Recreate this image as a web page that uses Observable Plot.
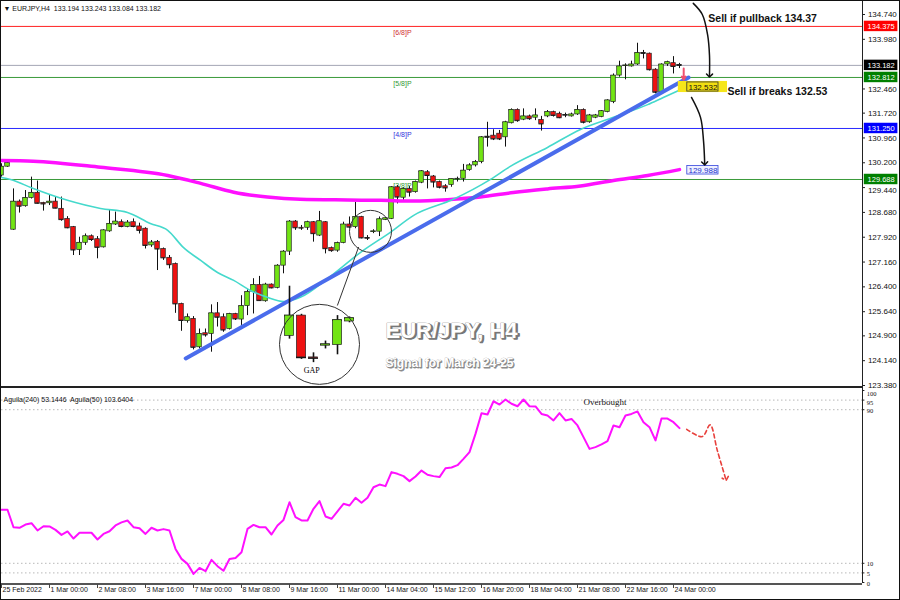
<!DOCTYPE html>
<html><head><meta charset="utf-8">
<script src="https://cdn.jsdelivr.net/npm/d3@7"></script>
<script src="https://cdn.jsdelivr.net/npm/@observablehq/plot@0.6"></script>
<style>
html,body{margin:0;padding:0;background:#fff;}
#wrap{position:relative;width:900px;height:600px;overflow:hidden;background:#fff;}
#main{position:absolute;left:0;top:0;}
#ind{position:absolute;left:0;top:388px;}
#sep{position:absolute;left:0;top:386px;width:863px;height:2px;background:#222;}
#border{position:absolute;left:0;top:0;width:900px;height:600px;box-sizing:border-box;border:1px solid #111;pointer-events:none;}
</style></head>
<body><div id="wrap"><div id="main"></div><div id="ind"></div><div id="sep"></div><div id="border"></div></div>
<script>
// ---------------- DATA ----------------
const barOpen  = [129.81,130.08,128.15,129.01,128.87,129.12,129.28,128.97,128.96,129.01,128.79,128.48,128.23,127.53,127.75,127.95,127.86,127.61,128.10,128.31,128.38,128.23,128.38,128.25,128.18,127.67,127.78,127.56,127.29,127.10,125.88,125.35,125.42,124.55,124.98,124.96,125.59,125.47,125.11,125.57,125.40,125.81,126.24,126.46,125.96,126.47,126.37,127.05,127.48,128.40,128.21,128.21,128.38,127.97,128.38,127.59,127.51,127.74,128.31,128.23,128.54,127.90,128.08,128.09,128.45,128.48,129.45,129.13,129.40,129.30,129.59,129.91,129.78,129.61,129.48,129.52,129.70,129.71,129.98,130.12,130.22,131.00,131.03,131.09,130.98,131.41,131.82,131.52,131.62,131.58,131.51,131.62,131.75,131.70,131.65,131.62,131.68,131.82,131.44,131.58,131.60,131.75,132.06,132.87,133.17,133.15,133.21,133.56,133.54,133.05,132.36,133.21,133.25,133.194];
const barHigh  = [130.17,130.25,129.40,129.06,129.35,129.76,129.64,128.99,129.22,129.15,129.15,128.55,128.25,127.92,128.02,127.99,127.94,128.15,128.74,128.69,128.45,128.43,128.48,128.35,128.21,127.82,127.82,127.59,127.36,127.13,125.90,125.57,125.49,125.11,125.11,125.85,125.92,125.57,125.59,125.59,126.13,126.31,126.65,126.72,126.51,126.49,127.08,127.51,128.43,128.43,128.28,128.41,128.40,128.71,128.40,127.62,127.77,128.38,128.54,128.99,128.56,127.97,128.15,128.54,128.52,129.47,129.50,129.43,129.47,129.64,129.96,129.96,129.81,129.64,129.53,129.70,129.76,130.15,130.17,130.27,131.00,131.44,131.21,131.19,131.47,131.85,131.85,131.85,131.66,131.85,131.62,131.80,131.78,131.75,131.72,131.72,131.95,131.85,131.68,131.68,131.80,132.13,132.92,133.31,133.23,133.31,133.86,133.64,133.56,133.08,133.23,133.31,133.45,133.243];
const barLow   = [129.76,130.06,128.13,128.66,128.84,129.09,128.94,128.72,128.89,128.79,128.41,128.18,127.36,127.36,127.67,127.79,127.26,127.59,128.07,128.28,128.21,128.21,128.21,128.02,127.56,127.61,126.90,127.21,126.95,125.59,125.04,125.29,124.47,124.50,124.86,124.40,125.17,125.01,125.08,125.37,125.22,125.52,125.57,125.96,125.93,126.34,126.34,126.80,127.36,128.13,128.13,128.13,127.77,127.94,127.41,127.46,127.46,127.72,128.18,128.18,127.87,127.82,128.03,127.94,128.43,128.46,128.94,129.05,129.15,129.27,129.56,129.40,129.43,129.40,129.30,129.45,129.61,129.61,129.94,130.07,130.17,130.68,130.88,130.88,130.68,131.39,131.44,131.49,131.50,131.49,131.17,131.58,131.60,131.55,131.58,131.60,131.65,131.39,131.41,131.55,131.58,131.73,132.01,132.82,132.74,133.13,133.18,133.38,133.01,132.31,132.31,133.15,132.92,133.084];
const barClose = [130.08,130.19,129.01,128.87,129.12,129.28,128.96,128.94,129.01,128.81,128.46,128.21,127.53,127.75,127.95,127.85,127.61,128.13,128.33,128.40,128.25,128.37,128.25,128.13,127.67,127.76,127.56,127.29,127.08,125.88,125.37,125.47,124.55,124.96,124.93,125.59,125.47,125.08,125.57,125.42,125.81,126.24,126.46,125.98,126.47,126.37,127.05,127.48,128.40,128.21,128.20,128.38,128.03,128.41,127.57,127.51,127.74,128.31,128.23,128.54,127.90,127.89,128.10,128.47,128.50,129.45,129.15,129.40,129.30,129.61,129.94,129.81,129.61,129.45,129.43,129.70,129.71,129.96,130.12,130.22,130.98,130.98,130.93,130.93,131.44,131.82,131.49,131.62,131.55,131.65,131.39,131.75,131.65,131.58,131.66,131.68,131.82,131.44,131.65,131.65,131.78,132.11,132.87,133.15,133.18,133.21,133.56,133.55,133.05,132.36,133.21,133.28,133.15,133.182];

// Aguila oscillator values (one per bar)
const aguila = [37.9,37.9,28.8,28.5,30.2,30.9,27.1,29.3,29.2,27.4,24.8,26.6,22.9,25.9,25.9,25.9,22.4,25.3,26.7,29.7,31.3,32.3,28.8,28.3,25.3,28.5,27.1,27.8,27.1,17.5,12.3,9.7,4.5,7.6,5.9,11.8,8.5,6.1,12.2,12.8,15.8,27.9,30.0,28.8,28.8,25.0,29.7,32.6,41.8,34.0,32.3,32.3,38.4,42.4,34.4,33.2,37.1,41.0,40.1,44.1,41.5,44.1,49.6,51.0,50.2,57.5,56.6,55.4,52.8,55.2,58.3,56.1,55.4,54.9,59.5,59.9,61.1,64.4,67.9,77.4,88.2,87.5,94.4,92.7,95.3,93.1,91.8,95.3,91.8,91.7,87.8,87.0,84.4,88.2,84.4,85.2,81.8,75.7,69.6,70.5,71.9,73.6,81.8,80.9,87.0,87.8,89.1,83.5,80.9,74.0,85.4,85.4,83.5,80.4];

// moving averages, read at sample bars
const ma200K = [0,5.3,16.5,27.7,33.2,38.7,44.3,49.8,57.7,63.2,68.7,74.3,79.8,85.3,91,96.5,102,107.7,113];
const ma200P = [130.27,130.25,130.06,129.81,129.57,129.30,129.15,129.08,129.06,129.05,129.03,129.07,129.15,129.29,129.40,129.49,129.66,129.81,129.99];
const emaK = [0,1.5,5.3,11,16.5,21,24.8,27.7,30.3,33.2,36,38.7,41.5,44.3,47,49.8,54.8,59.8,64.8,68.7,75.3,81.5,84.8,91,96.5,102,107.7,110.3,113.2];
const emaP = [129.75,129.69,129.41,129.05,128.80,128.68,128.34,128.13,127.61,127.21,126.84,126.60,126.29,126.08,125.95,126.08,126.72,127.45,128.07,128.59,129.08,129.69,130.09,130.67,131.22,131.59,131.98,132.20,132.44];

// trend line
const trendK = [30.7, 114.5];
const trendP = [124.21, 132.81];

// price axis
const priceTicks = [134.74,133.98,132.46,131.72,130.96,130.2,129.44,128.68,127.92,127.16,126.4,125.64,124.9,124.14,123.38];
const levelValues = [134.375,133.182,132.812,131.25,129.688];
const levelLineColors = ["#ff2020","#a3a6b4","#3a9a3a","#2a2aff","#3a9a3a"];
const levelBoxColors = ["#ff0000","#000000","#008000","#0000ff","#008000"];
const levelNames = ["[6/8]P","","[5/8]P","[4/8]P","[3/8]P"];
const levelNameColors = ["#d03030","#000","#339933","#3333dd","#339933"];

// time axis
const timeTickK = [0,8,16,24,32,40,48,56,64,72,80,88,96,104,112];
const timeTickLabels = ["25 Feb 2022","1 Mar 00:00","2 Mar 08:00","3 Mar 16:00","7 Mar 00:00","8 Mar 08:00","9 Mar 16:00","11 Mar 00:00","14 Mar 04:00","15 Mar 12:00","16 Mar 20:00","18 Mar 04:00","21 Mar 08:00","22 Mar 16:00","24 Mar 00:00"];

// oscillator axis
const oscTicksUpper = [100,95];
const oscTicksOther = [90,10,5,0];
const oscDotted = [95,90,10,5];
const oscForecastK = [114.2,116.8,118.1,119.3,120.7];
const oscForecastV = [79.8,76.0,82.1,68.8,54.0];

// annotations (bar index, price)
const arrow1K = [115.3,116.8,117.7,118.0,118.0];
const arrow1P = [135.08,134.74,134.10,133.48,132.87];
const arrow2K = [115.0,116.5,117.0,117.2];
const arrow2P = [132.20,131.59,130.88,130.18];
const zoomCircleSmall = {k:61.5, p:128.10};
const zoomCircleLarge = {k:53.0, p:124.64};
const zoomFactor = 2;
const connectorK = [59.5, 56.0];
const connectorP = [127.61, 125.84];

// ---------------- BUILD ----------------
const FRAME_K = 143.5;
const XDOM = [0, 149.5], XR = [1, 898];
const bars = barOpen.map((o,i)=>({k:i,o,h:barHigh[i],l:barLow[i],c:barClose[i]}));
const ma200 = ma200K.map((k,i)=>({k,p:ma200P[i]}));
const ema = emaK.map((k,i)=>({k,p:emaP[i]}));
const trend = trendK.map((k,i)=>({k,p:trendP[i]}));
const levels = levelValues.map((v,i)=>({v,line:levelLineColors[i],box:levelBoxColors[i],name:levelNames[i],nc:levelNameColors[i]}));
const arrow1 = arrow1K.map((k,i)=>({k,p:arrow1P[i]}));
const arrow2 = arrow2K.map((k,i)=>({k,p:arrow2P[i]}));
const connector = connectorK.map((k,i)=>({k,p:connectorP[i]}));
const nearLevel = t => levelValues.some(v => v > t && v - t < 0.27);
const ticksPlain = priceTicks.filter(t => !nearLevel(t));
const ticksShifted = priceTicks.filter(t => nearLevel(t));

const zk = k => zoomCircleLarge.k + zoomFactor*(k - zoomCircleSmall.k);
const zp = p => zoomCircleLarge.p + zoomFactor*(p - zoomCircleSmall.p);
const insetBars = bars.filter(d=>d.k>=59 && d.k<=64).map(d=>({k:zk(d.k),o:zp(d.o),h:zp(d.h),l:zp(d.l),c:zp(d.c)}));
const insetEma = ema.filter(d=>d.k>50 && d.k<72).map(d=>({k:zk(d.k),p:zp(d.p)}));

const GREEN = "#72e414", RED = "#ee1111";
const SANS = "Liberation Sans, Arial, sans-serif";
const SERIF = "Liberation Serif, Times New Roman, serif";

const candleMarks = (data, w, sw, label) => [
  Plot.ruleX(data, {x:"k", y1:"l", y2:"h", stroke:"#111", strokeWidth:sw, ariaLabel:label}),
  Plot.ruleY(data, {y:"c", x1:d=>d.k-w*1.1, x2:d=>d.k+w*1.1, stroke:"#111", strokeWidth:sw, ariaLabel:label}),
  Plot.rect(data, {x1:d=>d.k-w, x2:d=>d.k+w, y1:"o", y2:"c", fill:d=>d.c>=d.o?GREEN:RED, stroke:"#222", strokeWidth:0.7, ariaLabel:label})
];

const main = Plot.plot({
  width:900, height:388, marginTop:0, marginRight:0, marginBottom:0, marginLeft:0,
  style:{fontFamily:SANS, background:"transparent", overflow:"visible"},
  x:{type:"linear", domain:XDOM, range:XR, axis:null},
  y:{type:"linear", domain:[123.38,134.74], range:[385,14], axis:null},
  marks:[
    Plot.ruleY(levels, {y:"v", x1:0, x2:FRAME_K, stroke:"line", strokeWidth:1}),
    Plot.text(levels.filter(d=>d.name), {x:65.3, y:"v", text:"name", fill:"nc", dy:6, textAnchor:"start", fontSize:7}),
    ...candleMarks(bars, 0.38, 1, "candles"),
    Plot.line(ma200, {x:"k", y:"p", stroke:"#ff10ff", strokeWidth:3.5, curve:"monotone-x"}),
    Plot.line(ema, {x:"k", y:"p", stroke:"#45d9cc", strokeWidth:1.6, curve:"monotone-x"}),
    Plot.line(trend, {x:"k", y:"p", stroke:"#4a6cec", strokeWidth:4, strokeLinecap:"round"}),
    // zoom circles
    Plot.dot([zoomCircleSmall], {x:"k", y:"p", r:21, fill:"none", stroke:"#333", strokeWidth:1}),
    Plot.line(connector, {x:"k", y:"p", stroke:"#333", strokeWidth:1}),
    Plot.dot([zoomCircleLarge], {x:"k", y:"p", r:40, fill:"#fff", stroke:"none"}),
    Plot.line(insetEma, {x:"k", y:"p", stroke:"#45d9cc", strokeWidth:3, curve:"monotone-x", ariaLabel:"inset"}),
    ...candleMarks(insetBars, 0.76, 1.6, "inset"),
    Plot.text([{k:51.7,p:123.84}], {x:"k", y:"p", text:()=>"GAP", fontFamily:SERIF, fontSize:8, fill:"#000", ariaLabel:"inset"}),
    Plot.dot([zoomCircleLarge], {x:"k", y:"p", r:40, fill:"none", stroke:"#333", strokeWidth:1}),
    // titles
    Plot.text([{k:64,p:125.06}], {x:"k", y:"p", text:()=>"EUR/JPY, H4", textAnchor:"start", fontSize:22, fontWeight:"bold", fill:"#777", stroke:"#777", strokeWidth:1.5, dx:1.6, dy:1.6}),
    Plot.text([{k:64,p:125.06}], {x:"k", y:"p", text:()=>"EUR/JPY, H4", textAnchor:"start", fontSize:22, fontWeight:"bold", fill:"#fff", stroke:"#8a8a8a", strokeWidth:0.7}),
    Plot.text([{k:64,p:124.07}], {x:"k", y:"p", text:()=>"Signal for March 24-25", textAnchor:"start", fontSize:12, fontWeight:"bold", fill:"#888", stroke:"#888", strokeWidth:0.8, dx:1, dy:1}),
    Plot.text([{k:64,p:124.07}], {x:"k", y:"p", text:()=>"Signal for March 24-25", textAnchor:"start", fontSize:12, fontWeight:"bold", fill:"#fff", stroke:"#999", strokeWidth:0.4}),
    // signal annotations
    Plot.rect([{x1:112.8,x2:121.0,y1:132.35,y2:132.69}], {x1:"x1", x2:"x2", y1:"y1", y2:"y2", fill:"#f6e61a"}),
    Plot.rect([{x1:114.3,x2:119.5,y1:132.38,y2:132.66}], {x1:"x1", x2:"x2", y1:"y1", y2:"y2", fill:"#f2df10", stroke:"#333", strokeWidth:0.8}),
    Plot.text([{k:116.9,p:132.52}], {x:"k", y:"p", text:()=>"132.532", fontSize:8, fill:"#111"}),
    Plot.rect([{x1:114.3,x2:119.5,y1:129.84,y2:130.10}], {x1:"x1", x2:"x2", y1:"y1", y2:"y2", fill:"#eef0ff", stroke:"#3344dd", strokeWidth:0.8}),
    Plot.text([{k:116.9,p:129.97}], {x:"k", y:"p", text:()=>"129.988", fontSize:8, fill:"#2233cc"}),
    Plot.arrow([{x1:113.7,y1:133.09,x2:113.7,y2:132.74}], {x1:"x1", y1:"y1", x2:"x2", y2:"y2", stroke:"#f05070", strokeWidth:2, headLength:6}),
    Plot.line(arrow1, {x:"k", y:"p", curve:"catmull-rom", stroke:"#111", strokeWidth:1.5, markerEnd:"arrow"}),
    Plot.line(arrow2, {x:"k", y:"p", curve:"catmull-rom", stroke:"#111", strokeWidth:1.5, markerEnd:"arrow"}),
    Plot.text([{k:117.8,p:134.62}], {x:"k", y:"p", text:()=>"Sell if pullback 134.37", textAnchor:"start", fontSize:10.5, fontWeight:"bold", fill:"#111"}),
    Plot.text([{k:121.0,p:132.38}], {x:"k", y:"p", text:()=>"Sell if breaks 132.53", textAnchor:"start", fontSize:10.5, fontWeight:"bold", fill:"#111"}),
    // header
    Plot.text(["\u25BC EURJPY,H4  133.194 133.243 133.084 133.182"], {frameAnchor:"top-left", dx:3, dy:6, text:d=>d, textAnchor:"start", fontSize:7, fill:"#111"}),
    // right price axis
    Plot.ruleX([FRAME_K], {stroke:"#222", strokeWidth:1}),
    Plot.ruleY(priceTicks, {y:d=>d, x1:FRAME_K, x2:FRAME_K+0.5, stroke:"#222"}),
    Plot.text(ticksPlain, {x:FRAME_K+0.9, y:d=>d, text:d=>d.toFixed(3), textAnchor:"start", fontSize:8, fill:"#111"}),
    Plot.text(ticksShifted, {x:FRAME_K+0.9, y:d=>d, text:d=>d.toFixed(3), textAnchor:"start", fontSize:8, fill:"#111", dy:2.5}),
    Plot.rect(levels, {x1:FRAME_K+0.3, x2:FRAME_K+5.9, y1:d=>d.v-0.16, y2:d=>d.v+0.16, fill:"box"}),
    Plot.text(levels, {x:FRAME_K+3.1, y:"v", text:d=>d.v.toFixed(3), fontSize:7.5, fill:"#fff"})
  ]
});
document.getElementById("main").appendChild(main);

// clip the magnified inset to its circle
(function(){
  const sx = d3.scaleLinear(XDOM, XR);
  const sy = d3.scaleLinear([123.38,134.74],[385,14]);
  const svg = d3.select(main.tagName.toLowerCase()==="svg" ? main : main.querySelector("svg"));
  const defs = svg.insert("defs", ":first-child");
  defs.append("clipPath").attr("id","insetClip").append("circle")
    .attr("cx", sx(zoomCircleLarge.k)).attr("cy", sy(zoomCircleLarge.p)).attr("r", 39.5);
  svg.selectAll('g[aria-label="inset"]').attr("clip-path","url(#insetClip)");
})();

const oscData = aguila.map((v,i)=>({k:i,v}));
const forecast = oscForecastK.map((k,i)=>({k,v:oscForecastV[i]}));
const timeTicks = timeTickK.map((k,i)=>({k,label:timeTickLabels[i]}));

const ind = Plot.plot({
  width:900, height:212, marginTop:0, marginRight:0, marginBottom:0, marginLeft:0,
  style:{fontFamily:SANS, background:"transparent", overflow:"visible"},
  x:{type:"linear", domain:XDOM, range:XR, axis:null},
  y:{type:"linear", domain:[0,100], range:[194,2], axis:null},
  marks:[
    Plot.ruleY(oscDotted, {y:d=>d, x1:0, x2:FRAME_K, stroke:"#b8b8b8", strokeDasharray:"1.5,2.5"}),
    Plot.line(oscData, {x:"k", y:"v", stroke:"#ff10ff", strokeWidth:2}),
    Plot.line(forecast, {x:"k", y:"v", stroke:"#e8403c", strokeWidth:1.6, strokeDasharray:"4,3", curve:"catmull-rom", markerEnd:"arrow"}),
    Plot.text([{k:100.6,v:93.8}], {x:"k", y:"v", text:()=>"Overbought", fontFamily:SERIF, fontSize:9, fill:"#111"}),
    Plot.text(["Aguila(240) 53.1446  Aguila(50) 103.6404"], {frameAnchor:"top-left", dx:3, dy:9, text:d=>d, textAnchor:"start", fontSize:7, fill:"#111"}),
    Plot.ruleX([FRAME_K], {stroke:"#222", insetBottom:17}),
    Plot.ruleY([...oscTicksUpper, ...oscTicksOther], {y:d=>d, x1:FRAME_K, x2:FRAME_K+0.4, stroke:"#222"}),
    Plot.text(oscTicksUpper, {x:FRAME_K+0.7, y:d=>d, text:d=>String(d), textAnchor:"start", fontFamily:SERIF, fontSize:6.5, fill:"#111", dy:3}),
    Plot.text(oscTicksOther, {x:FRAME_K+0.7, y:d=>d, text:d=>String(d), textAnchor:"start", fontFamily:SERIF, fontSize:6.5, fill:"#111", dy:1}),
    Plot.ruleY([0], {y:d=>d, x1:0, x2:FRAME_K, dy:1.5, stroke:"#555", strokeWidth:2}),
    Plot.ruleX(timeTicks, {x:"k", insetTop:196, insetBottom:12, stroke:"#444"}),
    Plot.text(timeTicks, {x:"k", text:"label", frameAnchor:"bottom", dy:-9, dx:1, textAnchor:"start", fontSize:7, fill:"#111"})
  ]
});
document.getElementById("ind").appendChild(ind);
</script></body></html>
